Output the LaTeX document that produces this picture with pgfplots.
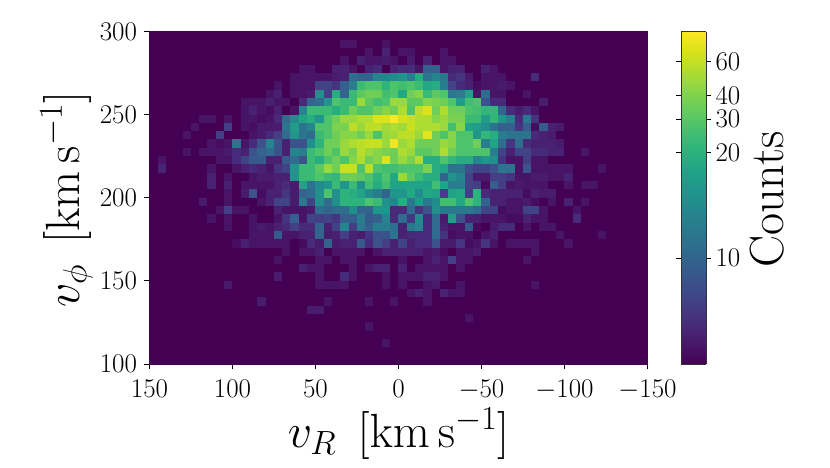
\RequirePackage{fix-cm}
\documentclass[border=0pt]{standalone}
\usepackage{pgfplots}
\usepackage{pgfplotstable}
\pgfplotsset{compat=1.18}
\newcommand{\ticksize}{\fontsize{27}{29}\selectfont}
\newcommand{\labsize}{\fontsize{48}{52}\selectfont}

% position on the colour bar (0-100), rows v_phi 300->100, columns v_R 150->-150, 5 km/s bins
\pgfplotstableread[header=false]{
0 0 0 0 0 0 0 0 0 0  0 0 0 0 0 0 0 0 0 0  0 0 0 0 0 0 0 0 0 0  0 0 0 0 0 0 0 0 0 0  0 0 0 0 0 0 0 0 0 0  0 0 0 0 0 0 0 0 0 0
0 0 0 0 0 0 0 0 0 0  0 0 0 0 0 0 0 0 0 0  0 0 0 5 5 0 0 0 5 0  0 0 0 0 0 0 0 0 0 0  0 0 0 0 0 0 0 0 0 0  0 0 0 0 0 0 0 0 0 0
0 0 0 0 0 0 0 0 0 0  0 0 0 0 0 0 0 0 0 0  0 0 0 0 0 0 5 0 9 0  5 5 0 0 0 5 0 0 0 0  0 0 0 0 0 0 0 0 0 0  0 0 0 0 0 0 0 0 0 0
0 0 0 0 0 0 0 0 0 0  0 0 0 0 0 0 0 0 0 0  0 0 0 5 0 9 5 5 7 5  0 7 0 9 0 5 5 0 0 0  0 0 0 0 0 0 0 0 0 0  0 0 0 0 0 0 0 0 0 0
0 0 0 0 0 0 0 0 0 0  0 0 0 0 0 0 0 0 5 5  0 0 9 9 5 0 9 12 0 9  12 12 5 30 30 5 9 9 0 0  9 5 0 0 0 0 0 0 0 0  0 0 0 0 0 0 0 0 0 0
0 0 0 0 0 0 0 0 0 0  0 0 0 0 0 0 0 5 5 5  5 5 7 9 35 32 32 45 45 48  52 42 62 38 45 40 12 15 7 0  5 5 5 0 0 0 12 0 0 0  0 0 0 0 0 0 0 0 0 0
0 0 0 0 0 0 0 0 0 0  0 0 0 0 0 5 0 5 5 5  20 20 15 30 42 68 72 72 65 72  70 72 68 60 62 42 20 12 9 3  5 5 7 5 0 0 0 0 0 0  0 0 0 0 0 0 0 0 0 0
0 0 0 0 0 0 0 0 0 0  0 0 0 0 5 9 0 5 5 7  50 18 62 32 68 75 78 78 70 72  60 78 82 68 75 72 40 42 58 5  35 5 5 0 0 5 0 0 0 0  0 0 0 0 0 0 0 0 0 0
0 0 0 0 0 0 0 0 0 0  0 5 5 5 9 5 5 0 12 32  35 52 72 68 68 85 75 70 72 85  85 75 75 82 80 78 72 55 70 72  25 12 12 0 0 0 0 7 0 0  0 0 0 0 0 0 0 0 0 0
0 0 0 0 0 0 0 0 0 0  0 5 9 5 3 9 0 5 45 68  68 68 62 68 78 72 72 78 82 78  88 72 90 95 78 88 78 78 72 70  66 66 32 12 7 12 5 0 0 0  0 0 0 0 0 0 0 0 0 0
0 0 0 0 0 0 5 5 0 5  0 5 5 3 5 12 35 48 58 62  52 72 78 85 85 88 88 95 95 100  93 92 88 88 82 85 80 80 68 68  55 66 52 42 12 40 15 0 0 0  0 0 0 0 0 0 0 0 0 0
0 0 0 0 0 5 0 0 0 18  0 5 3 7 7 7 38 55 38 45  72 72 80 80 90 85 90 90 86 88  86 92 88 88 88 85 70 82 58 55  50 38 30 30 15 30 3 28 9 7  0 0 0 0 0 0 0 0 0 0
0 0 0 0 5 0 0 0 18 0  0 0 5 7 12 18 35 52 38 35  68 72 78 82 82 78 85 72 85 86  90 90 85 96 78 72 82 72 72 52  66 62 42 38 38 38 12 9 7 0  0 0 0 0 0 0 0 0 0 0
0 0 0 0 0 0 0 5 3 5  38 5 12 25 45 25 9 25 25 50  65 78 78 85 88 90 92 92 85 98  85 88 78 78 78 85 82 72 72 78  42 58 35 15 35 12 9 9 9 7  0 0 0 0 0 0 0 0 0 0
0 0 0 0 5 0 5 5 5 7  12 9 25 32 35 25 9 45 42 68  72 78 72 85 80 90 85 82 80 78  88 85 75 75 78 88 78 72 72 72  72 42 20 9 20 20 12 12 9 9  0 0 5 0 0 0 0 0 0 0
0 5 0 0 0 0 0 0 5 5  12 20 28 28 9 9 28 35 25 68  62 72 78 72 82 88 78 82 95 78  85 80 88 62 62 72 66 62 62 45  52 50 15 5 5 18 5 5 0 0  0 0 0 0 0 0 0 0 0 0
0 10 0 0 0 0 0 5 0 0  5 9 12 9 5 15 20 52 68 68  75 85 78 92 92 72 90 72 70 70  72 72 72 80 62 58 38 38 25 20  20 25 38 38 5 25 5 5 5 5  5 0 0 0 5 0 0 0 0 0
0 0 0 0 0 0 0 9 0 5  0 0 5 7 7 9 9 52 68 68  72 68 66 78 78 76 72 65 72 60  85 75 68 62 62 32 52 45 20 7  7 18 18 15 5 5 7 7 5 5  9 0 0 0 0 0 0 0 0 0
0 0 0 0 0 0 0 9 0 9  0 5 5 5 5 9 12 7 58 38  48 52 68 52 68 50 70 62 70 58  58 58 58 58 70 58 42 42 20 18  3 30 18 5 7 5 5 5 0 0  5 0 5 5 0 0 0 0 0 0
0 0 0 0 0 0 0 0 0 5  0 7 25 3 9 9 15 7 32 35  50 72 50 65 62 58 48 42 32 52  52 60 48 60 58 18 58 60 18 65  12 9 9 9 9 3 9 7 7 0  0 0 0 0 0 0 0 0 0 0
0 0 0 0 0 0 7 0 0 5  0 0 0 5 9 20 20 7 40 20  50 35 50 65 65 65 72 68 50 45  62 40 55 40 48 70 70 60 72 65  32 9 9 5 5 7 3 0 5 0  9 0 5 0 0 0 0 0 0 0
0 0 0 0 0 0 0 0 5 18  5 5 0 0 0 9 5 5 5 7  35 32 35 35 50 32 32 52 52 12  12 35 15 25 50 40 40 40 40 35  20 20 3 5 5 20 20 5 0 0  0 5 0 0 0 0 0 0 0 0
0 0 0 0 0 0 0 5 0 5  0 0 5 0 0 5 15 30 5 20  18 20 15 30 30 42 28 30 45 12  35 15 48 12 35 7 55 25 9 9  5 5 5 3 3 9 5 5 0 0  0 12 0 0 0 0 0 0 0 0
0 0 0 0 0 0 0 0 0 5  0 0 5 7 5 9 12 18 12 12  32 9 20 45 18 40 30 42 42 35  9 40 45 12 35 9 5 5 28 3  0 7 12 12 0 5 0 5 5 0  0 0 0 0 0 0 0 0 0 0
0 0 0 0 0 0 0 0 0 0  0 0 5 5 5 28 5 5 9 9  32 7 9 18 9 7 15 25 25 38  9 12 12 12 35 15 3 5 5 0  5 9 0 0 0 0 0 0 0 5  0 0 0 0 5 0 0 0 0 0
0 0 0 0 0 0 0 0 0 0  3 9 5 5 5 5 5 0 3 12  7 32 7 9 9 28 12 25 18 9  20 9 12 12 25 7 7 15 3 5  15 5 0 5 5 5 5 0 0 0  5 0 0 0 0 0 0 0 0 0
0 0 0 0 0 0 0 0 0 0  0 0 0 0 0 0 5 0 5 5  9 0 5 5 5 5 0 5 9 9  9 9 9 5 7 3 0 5 5 7  0 0 0 0 0 0 5 0 0 0  0 0 0 0 0 0 0 0 0 0
0 0 0 0 0 0 0 0 0 0  0 0 0 0 0 5 0 0 0 0  5 5 0 5 5 0 0 0 0 0  5 0 0 5 9 5 18 5 5 0  0 0 0 0 0 5 0 0 0 0  0 0 0 0 0 0 0 0 0 0
0 0 0 0 0 0 0 0 0 0  0 0 0 0 0 0 0 0 9 5  5 0 0 0 5 0 5 9 9 0  9 0 5 5 5 5 0 5 0 0  0 0 0 0 0 0 0 0 0 0  0 0 0 0 0 0 0 0 0 0
0 0 0 0 0 0 0 0 0 0  0 0 0 0 0 7 0 0 0 0  5 0 0 12 5 0 0 0 5 0  5 5 5 9 9 5 0 0 0 0  0 0 0 0 0 0 0 0 0 0  0 0 0 0 0 0 0 0 0 0
0 0 0 0 0 0 0 0 0 7  0 0 0 0 0 0 0 0 0 0  5 5 5 5 0 0 0 0 5 0  5 0 0 5 7 0 0 5 0 0  0 0 0 0 0 0 5 0 0 0  0 0 0 0 0 0 0 0 0 0
0 0 0 0 0 0 0 0 0 0  0 0 0 0 0 0 0 0 0 0  0 0 0 0 0 0 0 0 0 0  0 5 9 5 0 9 5 5 0 0  0 0 0 0 0 0 0 0 0 0  0 0 0 0 0 0 0 0 0 0
0 0 0 0 0 0 0 0 0 0  0 0 0 7 0 0 0 0 0 0  0 5 0 0 0 0 5 0 0 5  0 0 0 5 0 0 0 0 0 0  0 0 0 0 0 0 0 0 0 0  0 0 0 0 0 0 0 0 0 0
0 0 0 0 0 0 0 0 0 0  0 0 0 0 0 0 0 0 0 7  7 0 0 0 0 0 0 0 0 0  0 0 0 0 0 0 0 0 0 0  0 0 0 0 0 0 0 0 0 0  0 0 0 0 0 0 0 0 0 0
0 0 0 0 0 0 0 0 0 0  0 0 0 0 0 0 0 0 0 0  0 0 0 0 0 0 0 0 0 0  0 0 0 0 0 0 0 0 5 0  0 0 0 0 0 0 0 0 0 0  0 0 0 0 0 0 0 0 0 0
0 0 0 0 0 0 0 0 0 0  0 0 0 0 0 0 0 0 0 0  0 0 0 0 0 0 5 0 0 0  0 0 0 0 0 0 0 0 0 0  0 0 0 0 0 0 0 0 0 0  0 0 0 0 0 0 0 0 0 0
0 0 0 0 0 0 0 0 0 0  0 0 0 0 0 0 0 0 0 0  0 0 0 0 0 0 0 0 0 0  0 0 0 0 0 0 0 0 0 0  0 0 0 0 0 0 0 0 0 0  0 0 0 0 0 0 0 0 0 0
0 0 0 0 0 0 0 0 0 0  0 0 0 0 0 0 0 0 0 0  0 0 0 0 0 0 0 0 5 0  0 0 0 0 0 0 0 0 0 0  0 0 0 0 0 0 0 0 0 0  0 0 0 0 0 0 0 0 0 0
0 0 0 0 0 0 0 0 0 0  0 0 0 0 0 0 0 0 0 0  0 0 0 0 0 0 0 0 0 0  0 0 0 0 0 0 0 0 0 0  0 0 0 0 0 0 0 0 0 0  0 0 0 0 0 0 0 0 0 0
0 0 0 0 0 0 0 0 0 0  0 0 0 0 0 0 0 0 0 0  0 0 0 0 0 0 0 0 0 0  0 0 0 0 0 0 0 0 0 0  0 0 0 0 0 0 0 0 0 0  0 0 0 0 0 0 0 0 0 0
}\counts

\begin{document}
\begin{tikzpicture}
\path[use as bounding box] (-149.5pt,-103pt) rectangle (680.5pt,364pt);
\begin{axis}[
  at={(0pt,0pt)}, anchor=south west,
  scale only axis, width=498pt, height=332.5pt,
  x dir=reverse, xmin=-150, xmax=150, ymin=100, ymax=300,
  xtick={-150,-100,-50,0,50,100,150},
  ytick={100,150,200,250,300},
  tick align=outside, tick pos=left,
  major tick length=5pt,
  tick style={black, line width=0.8pt},
  axis line style={black, line width=0.9pt},
  axis on top,
  tick label style={font=\ticksize},
  xticklabel style={yshift=-8pt},
  yticklabel style={xshift=-4pt},
  xlabel={$v_R\;\,[\mathrm{km\,s^{-1}}]$},
  ylabel={$v_\phi\;\,[\mathrm{km\,s^{-1}}]$},
  label style={font=\labsize},
  xlabel style={yshift=-1pt},
  ylabel style={xshift=-2pt},
  colormap/viridis,
  point meta min=0, point meta max=100,
  colorbar sampled,
  colorbar/width=25pt,
  colorbar style={
    at={(1.0673,0)}, anchor=south west,
    width=25pt,
    samples=200,
    ytick={31.9,63.5,73.7,80.7,90.9},
    yticklabels={10,20,30,40,60},
    yticklabel style={font=\ticksize, xshift=1pt, inner ysep=0pt},
    major tick length=5pt,
    tick align=outside,
    tick style={black, line width=0.8pt},
    axis line style={black!80, line width=0.9pt},
    ylabel={Counts},
    ylabel style={font=\labsize, yshift=-3pt, xshift=-2pt},
  },
]
\pgfplotsinvokeforeach{0,...,59}{
  \addplot[scatter, only marks, mark=square*, mark size=4.15pt,
    scatter/use mapped color={draw=mapped color,fill=mapped color},
    mark options={line width=0.2pt}, point meta=explicit]
    table[x expr={147.5-5*#1}, y expr={297.5-5*\coordindex}, meta index=#1] {\counts};
}
\end{axis}
\end{tikzpicture}
\end{document}
